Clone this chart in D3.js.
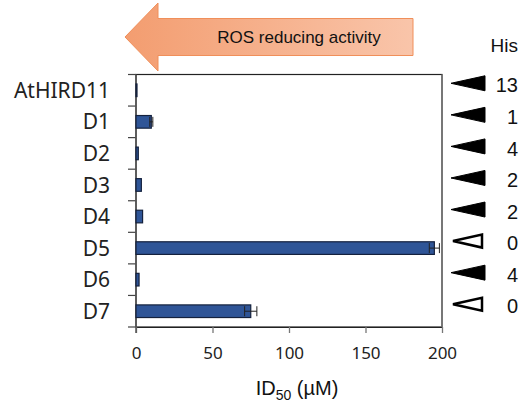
<!DOCTYPE html>
<html>
<head>
<meta charset="utf-8">
<script src="https://cdn.jsdelivr.net/npm/d3@7"></script>
<style>
  body { margin: 0; background: #fff; }
  svg { display: block; }
</style>
</head>
<body>
<script>
var width = 523,
    height = 412;

// donnees
var names = ["AtHIRD11", "D1", "D2", "D3", "D4", "D5", "D6", "D7"];
var id50 = [0.5, 10, 1.5, 3.5, 4.3, 195, 2, 75];
var errs = [0, 1, 0, 0, 0, 3.3, 0, 4];
var hisCount = ["13", "1", "4", "2", "2", "0", "4", "0"];
var hisFilled = [true, true, true, true, true, false, true, false];
var xTicks = [0, 50, 100, 150, 200];

var margin = {left: 136, right: 81, top: 74.5, bottom: 85};
var plotW = width - margin.left - margin.right,
    plotH = height - margin.top - margin.bottom;

var svg = d3.select("body").append("svg")
    .attr("width", width)
    .attr("height", height);

var defs = svg.append("defs");
var grad = defs.append("linearGradient").attr("id", "arrowGrad")
    .attr("x1", "0%").attr("x2", "100%");
grad.append("stop").attr("offset", "0%").attr("stop-color", "#f39d70");
grad.append("stop").attr("offset", "100%").attr("stop-color", "#f9c5aa");

// fleche ROS
var arrowX0 = 125, arrowX1 = 413, arrowCy = 37;
var arrowPts = [
    [arrowX0, arrowCy], [158, 3], [158, 18.5], [arrowX1, 18.5],
    [arrowX1, 55.5], [158, 55.5], [158, 71]
];
svg.append("polygon")
    .attr("points", arrowPts.map(function (p) { return p.join(","); }).join(" "))
    .attr("fill", "url(#arrowGrad)")
    .attr("stroke", "#f08f5a")
    .attr("stroke-width", 1);
svg.append("text")
    .attr("x", 299).attr("y", arrowCy + 6)
    .attr("text-anchor", "middle")
    .style("font-family", "Liberation Sans, Arial, sans-serif")
    .style("font-size", "17px")
    .attr("fill", "#111")
    .text("ROS reducing activity");

var g = svg.append("g").attr("transform", "translate(" + margin.left + "," + margin.top + ")");

var x = d3.scaleLinear().domain([0, 200]).range([0, plotW]);
var y = d3.scaleBand().domain(names).range([0, plotH]).paddingInner(0.6).paddingOuter(0.3);

// cadre
g.append("rect")
    .attr("width", plotW).attr("height", plotH)
    .attr("fill", "none").attr("stroke", "#222").attr("stroke-width", 1.2);
g.append("line").attr("x1", plotW).attr("x2", plotW).attr("y1", 0).attr("y2", plotH)
    .attr("stroke", "#777").attr("stroke-width", 1.5);

// axe x
var xAxis = g.append("g").attr("transform", "translate(0," + plotH + ")")
    .call(d3.axisBottom(x).tickValues(xTicks).tickSize(6).tickPadding(14));
xAxis.select(".domain").attr("stroke", "#222");
xAxis.selectAll(".tick line").attr("stroke", "#777").attr("stroke-width", 1.3);
xAxis.selectAll("text")
    .style("font-family", "Noto Sans, sans-serif")
    .style("font-size", "17px")
    .attr("fill", "#222");

// ticks categories (aux limites)
var step = plotH / names.length;
g.selectAll(".ctick").data(d3.range(names.length + 1)).join("line")
    .attr("class", "ctick")
    .attr("x1", -8).attr("x2", 0)
    .attr("y1", function (i) { return i * step; })
    .attr("y2", function (i) { return i * step; })
    .attr("stroke", "#444").attr("stroke-width", 1.2);
g.append("line").attr("x1", 0).attr("x2", 0).attr("y1", 0).attr("y2", plotH + 6)
    .attr("stroke", "#555").attr("stroke-width", 1.5);

g.selectAll(".clabel").data(names).join("text")
    .attr("class", "clabel")
    .attr("x", -26)
    .attr("y", function (d) { return y(d) + y.bandwidth() / 2; })
    .attr("dy", "0.36em")
    .attr("text-anchor", "end")
    .style("font-family", "Noto Sans, sans-serif")
    .style("font-size", "21px")
    .attr("fill", "#222")
    .text(function (d) { return d; });

// barres
var data = names.map(function (n, i) { return {name: n, v: id50[i], e: errs[i]}; });
g.selectAll(".bar").data(data).join("rect")
    .attr("class", "bar")
    .attr("x", x(0))
    .attr("y", function (d) { return y(d.name); })
    .attr("width", function (d) { return Math.max(1, x(d.v) - x(0)); })
    .attr("height", y.bandwidth())
    .attr("fill", "#2f5597")
    .attr("stroke", "#14213d")
    .attr("stroke-width", 1.2);

// barres d'erreur
var errData = data.filter(function (d) { return d.e > 0; });
errData.forEach(function (d) {
    var cy = y(d.name) + y.bandwidth() / 2;
    var x0 = x(d.v - d.e), x1 = x(d.v + d.e);
    g.append("line").attr("x1", x0).attr("x2", x1).attr("y1", cy).attr("y2", cy)
        .attr("stroke", "#222").attr("stroke-width", 1);
    [x0, x1].forEach(function (xx) {
        g.append("line").attr("x1", xx).attr("x2", xx).attr("y1", cy - 5).attr("y2", cy + 5)
            .attr("stroke", "#222").attr("stroke-width", 1);
    });
});

// titre axe x
svg.append("text")
    .attr("x", 297).attr("y", 395)
    .attr("text-anchor", "middle")
    .style("font-family", "Liberation Sans, Arial, sans-serif")
    .style("font-size", "20px")
    .attr("fill", "#111")
    .html('ID<tspan dy="5" font-size="14px">50</tspan><tspan dy="-5"> (µM)</tspan>');

// His
svg.append("text")
    .attr("x", 518).attr("y", 52)
    .attr("text-anchor", "end")
    .style("font-family", "Liberation Sans, Arial, sans-serif")
    .style("font-size", "19px")
    .attr("fill", "#111")
    .text("His");

var his = g.append("g").attr("transform", "translate(" + plotW + ",-7)");
names.forEach(function (n, i) {
    var cy = y(n) + y.bandwidth() / 2;
    var filled = hisFilled[i];
    var tri = filled ? [[9, cy], [43, cy - 7.5], [43, cy + 7.5]]
                     : [[11, cy], [40, cy - 6.5], [40, cy + 6.5]];
    his.append("polygon")
        .attr("points", tri.map(function (p) { return p.join(","); }).join(" "))
        .attr("fill", filled ? "#000" : "#fff")
        .attr("stroke", "#000")
        .attr("stroke-width", filled ? 1 : 2.5)
        .attr("stroke-linejoin", "miter");
    his.append("text")
        .attr("x", 76).attr("y", cy + 2)
        .attr("dy", "0.36em")
        .attr("text-anchor", "end")
        .style("font-family", "Liberation Sans, Arial, sans-serif")
        .style("font-size", "20px")
        .attr("fill", "#111")
        .text(hisCount[i]);
});
</script>
</body>
</html>
